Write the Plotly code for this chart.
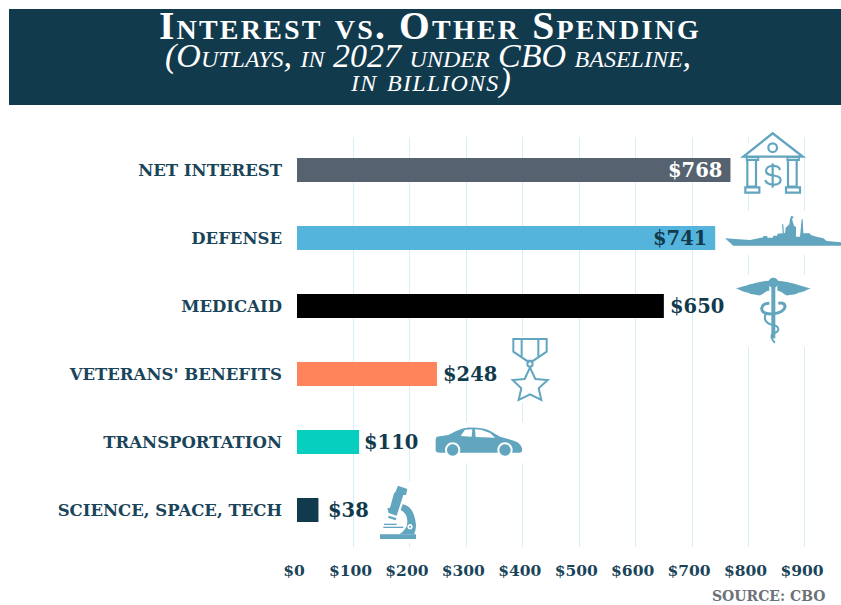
import re
import plotly.graph_objects as go

categories = ["NET INTEREST", "DEFENSE", "MEDICAID", "VETERANS' BENEFITS", "TRANSPORTATION", "SCIENCE, SPACE, TECH"]
values = [768, 741, 650, 248, 110, 38]
value_labels = ["$768", "$741", "$650", "$248", "$110", "$38"]
bar_colors = ["#566270", "#55b4dc", "#000000", "#ff845c", "#07cfc0", "#123a4d"]
label_colors = ["#ffffff", "#123a4d", "#123a4d", "#123a4d", "#123a4d", "#123a4d"]
label_shifts = [-6, -6, 4, 4, 3, 8]
tick_values = [0, 100, 200, 300, 400, 500, 600, 700, 800, 900]
tick_labels = ["$0", "$100", "$200", "$300", "$400", "$500", "$600", "$700", "$800", "$900"]

NAVY = "#123a4d"
TEXT = "#1a4459"
ICON = "#62a5bf"
GRID = "#d9eff8"
SERIF = "Liberation Serif"
WIDE = "DejaVu Serif"
L, T, B = 297, 129, 58
W, H = 841, 605
PW = W - L
PH = H - T - B

def art(d, crop, row, **style):
    """Decorative icon: path given in 3x crop pixels, anchored to a category row."""
    ox, oy = crop
    cy = 170 + 68 * row
    out, is_x = [], True
    for tok in re.findall(r"[MLCQZ]|-?\d+\.?\d*", d):
        if tok in "MLCQZ":
            out.append(tok)
            is_x = True
        else:
            v = float(tok)
            if is_x:
                out.append(f"{ox + v / 3 - L:.2f}")
            else:
                out.append(f"{cy - (oy + v / 3):.2f}")
            is_x = not is_x
    shp = dict(type="path", path=" ".join(out), xref="x", yref="y", xsizemode="pixel", ysizemode="pixel",
               xanchor=0, yanchor=categories[row], layer="between")
    shp.update(style)
    return shp

def circ(x, y, r):
    k = r * 0.5523
    return (f"M {x-r} {y} C {x-r} {y-k} {x-k} {y-r} {x} {y-r} C {x+k} {y-r} {x+r} {y-k} {x+r} {y} "
            f"C {x+r} {y+k} {x+k} {y+r} {x} {y+r} C {x-k} {y+r} {x-r} {y+k} {x-r} {y} Z")

def fill(c=ICON):
    return dict(fillcolor=c, line=dict(width=0))

def stroke(w=2.2):
    return dict(fillcolor="rgba(0,0,0,0)", line=dict(color=ICON, width=w))

def box(x0, y0, x1, y1):
    return f"M {x0} {y0} L {x1} {y0} L {x1} {y1} L {x0} {y1} Z"

shapes = []

def mask(x0, y0, x1, y1, row):
    shapes.append(art(box(x0 * 3, y0 * 3, x1 * 3, y1 * 3), (0, 0), row, fillcolor="#ffffff", line=dict(width=0)))

mask(290, 125, 841, 137, 0)   # gridlines start below the top of the bank icon
mask(738, 143, 803, 193, 0)
mask(723, 211, 841, 255, 1)
mask(733, 275, 815, 347, 2)
mask(508, 337, 552, 403, 3)
mask(433, 422, 526, 463, 4)
mask(376, 482, 420, 543, 5)

# bank
c = (730, 125)
shapes.append(art("M 40 95 L 128 25 L 218 95 Z", c, 0, **stroke(2.4)))
shapes.append(art(circ(128, 68, 13), c, 0, **stroke(2.2)))
for x0 in (0, 122):
    shapes.append(art(box(52 + x0, 105, 78 + x0, 185), c, 0, **stroke(2.2)))
    shapes.append(art(box(46 + x0, 187, 88 + x0, 203), c, 0, **stroke(2.2)))
    shapes.append(art(box(50 + x0, 97, 85 + x0, 105), c, 0, **stroke(1.8)))
shapes.append(art("M 150 135 C 148 118 108 118 108 138 C 108 158 152 145 152 165 C 152 185 110 182 106 165", c, 0, **stroke(2.2)))
shapes.append(art("M 128 115 L 128 188", c, 0, **stroke(2.2)))

# ship
c = (720, 205)
shapes.append(art("M 15 100 L 90 105 L 130 97 L 130 93 L 142 93 L 142 98 L 158 98 L 160 92 L 172 92 L 172 86 "
                  "L 195 84 L 197 68 L 208 58 L 210 42 L 214 32 L 222 36 L 216 42 L 222 62 L 228 66 L 228 95 L 240 95 "
                  "L 245 42 L 248 42 L 250 85 L 270 85 L 272 90 L 290 95 L 310 100 L 320 108 L 363 112 L 363 122 L 40 122 Z",
                  c, 1, **fill()))
shapes.append(art("M 188 58 L 190 85", c, 1, **stroke(1.2)))

# caduceus
c = (730, 270)
shapes.append(art("M 18 55 C 50 48 75 35 118 32 L 118 62 C 105 62 95 78 85 76 C 75 72 65 76 55 68 C 40 67 30 60 18 55 Z", c, 2, **fill()))
shapes.append(art("M 242 55 C 210 48 185 35 142 32 L 142 62 C 155 62 165 78 175 76 C 185 72 195 76 205 68 C 220 67 230 60 242 55 Z", c, 2, **fill()))
shapes.append(art(circ(130, 38, 15), c, 2, **fill()))
shapes.append(art(box(124, 45, 136, 205), c, 2, **fill()))
shapes.append(art("M 118 100 C 92 100 88 125 108 130 C 130 135 162 128 165 110 C 165 98 152 98 145 100", c, 2, **stroke(3)))
shapes.append(art("M 108 130 C 100 145 105 160 130 165 C 150 170 150 185 130 190 C 120 195 125 210 135 218", c, 2, **stroke(2)))

# medal
c = (500, 330)
shapes.append(art("M 40 27 L 140 27 L 140 65 L 100 92 L 80 92 L 40 65 Z", c, 3, **stroke(2)))
shapes.append(art("M 65 27 L 65 80", c, 3, **stroke(2)))
shapes.append(art("M 115 27 L 115 80", c, 3, **stroke(2)))
shapes.append(art(circ(90, 102, 8), c, 3, fillcolor="#ffffff", line=dict(color=ICON, width=2)))
shapes.append(art("M 90 113 L 106 147 L 143 150 L 116 175 L 124 210 L 90 193 L 56 210 L 64 175 L 38 150 L 74 147 Z", c, 3, **stroke(2)))

# car
c = (425, 415)
shapes.append(art("M 32 72 L 32 105 C 32 112 38 113 45 113 L 285 113 C 292 113 292 105 291 100 C 288 88 278 80 260 75 "
                  "L 225 65 L 195 47 C 175 38 150 36 125 38 C 105 40 85 52 70 60 L 35 65 Z", c, 4, **fill()))
for x in (83, 240):
    shapes.append(art(circ(x, 105, 23), c, 4, **fill("#ffffff")))
    shapes.append(art(circ(x, 105, 17), c, 4, **fill()))
shapes.append(art("M 107 63 L 120 44 L 142 43 L 140 65 Z", c, 4, **fill("#ffffff")))
shapes.append(art("M 152 66 L 150 43 L 168 44 L 195 54 L 210 68 Z", c, 4, **fill("#ffffff")))

# microscope
c = (370, 475)
shapes.append(art(box(30, 178, 138, 192), c, 5, **fill()))
shapes.append(art("M 98 88 C 125 92 135 120 138 150 C 138 162 135 172 132 178 L 88 178 C 100 170 112 158 112 140 C 112 122 105 112 92 105 Z", c, 5, **fill()))
shapes.append(art(circ(120, 155, 8), c, 5, fillcolor="#ffffff", line=dict(width=0)))
shapes.append(art(circ(120, 155, 3), c, 5, **fill()))
shapes.append(art("M 76 52 L 84 32 L 112 42 L 108 60 L 100 60 L 80 122 L 56 114 L 52 100 L 60 98 L 72 55 Z", c, 5, **fill()))
shapes.append(art("M 56 122 L 80 130 L 76 136 L 54 128 Z", c, 5, **fill()))
shapes.append(art(box(40, 155, 100, 159), c, 5, **fill()))
shapes.append(art(box(42, 146, 80, 150), c, 5, **fill()))

# banner
shapes.append(dict(type="rect", xref="paper", yref="paper", layer="below",
                   x0=(9 - L) / PW, x1=1, y0=(H - B - 105) / PH, y1=(H - B - 9) / PH,
                   fillcolor=NAVY, line=dict(width=0)))

def px_x(p):
    return (p - L) / PW

def px_y(p):
    return (H - B - p) / PH

annotations = [
    dict(text='<span style="letter-spacing:2.2px">Interest vs. Other Spending</span>', xref="paper", yref="paper",
         x=px_x(430), y=px_y(26), showarrow=False, xanchor="center", yanchor="middle",
         font=dict(family=SERIF, size=39.5, color="#ffffff", weight="bold", variant="small-caps")),
    dict(text="(Outlays, in 2027 under CBO baseline,", xref="paper", yref="paper", x=px_x(428), y=px_y(55.5), showarrow=False,
         xanchor="center", yanchor="middle",
         font=dict(family=SERIF, size=34, color="#ffffff", style="italic", variant="small-caps")),
    dict(text='<span style="letter-spacing:1.2px">in billions)</span>', xref="paper", yref="paper", x=px_x(431), y=px_y(80), showarrow=False,
         xanchor="center", yanchor="middle",
         font=dict(family=SERIF, size=34, color="#ffffff", style="italic", variant="small-caps")),
    dict(text="SOURCE: CBO", xref="paper", yref="paper", x=px_x(827), y=px_y(596), showarrow=False,
         xanchor="right", yanchor="middle",
         font=dict(family=WIDE, size=14, color="#6d7178", weight="bold")),
]
for cat, val, lab, col, shift in zip(categories, values, value_labels, label_colors, label_shifts):
    annotations.append(dict(text=lab, x=val, y=cat, xref="x", yref="y", showarrow=False,
                            xanchor="right" if shift < 0 else "left", yanchor="middle", xshift=shift,
                            font=dict(family=WIDE, size=19.5, color=col, weight="bold")))

fig = go.Figure(go.Bar(
    x=values, y=categories, orientation="h", width=0.353,
    marker=dict(color=bar_colors, line=dict(width=0)),
    hoverinfo="skip",
))
fig.update_layout(
    width=W, height=H, margin=dict(l=L, r=0, t=T, b=B, pad=0), autosize=False,
    paper_bgcolor="#ffffff", plot_bgcolor="#ffffff", showlegend=False,
    shapes=shapes, annotations=annotations,
    xaxis=dict(range=[0, PW / 0.5644], tickmode="array", tickvals=tick_values, ticktext=tick_labels,
               showgrid=True, gridcolor=GRID, gridwidth=1.3, zeroline=False, showline=False, ticks="",
               ticklabelstandoff=12, ticklabelshift=-3,
               tickfont=dict(family=WIDE, size=15.5, color=TEXT, weight="bold")),
    yaxis=dict(type="category", categoryorder="array", categoryarray=categories,
               range=[5.544, -0.5 - 7 / 68], showgrid=False, zeroline=False, showline=False, ticks="",
               ticklabelstandoff=14,
               tickfont=dict(family=WIDE, size=16.5, color=TEXT, weight="bold")),
)
fig.write_html("out.html", config=dict(displayModeBar=False),
               post_script="document.body.style.margin='0';document.documentElement.style.overflow='hidden';")
